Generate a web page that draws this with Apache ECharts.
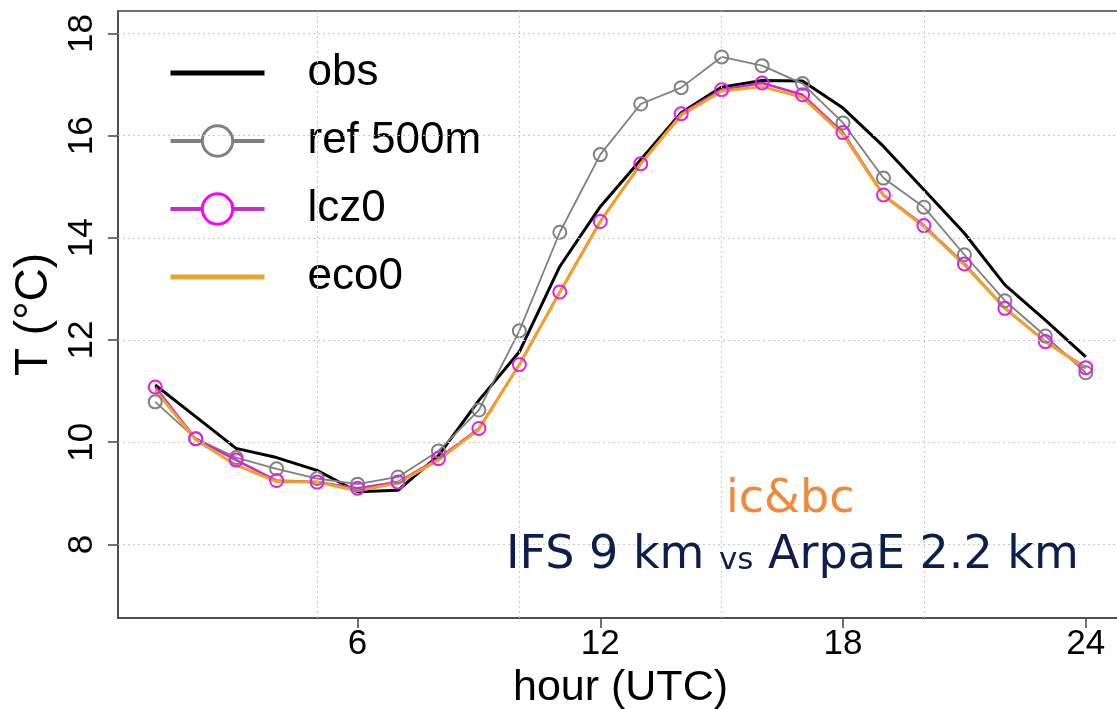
<!DOCTYPE html>
<html>
<head>
<meta charset="utf-8">
<script src="https://cdn.jsdelivr.net/npm/echarts@6/dist/echarts.min.js"></script>
<style>
html, body { margin: 0; padding: 0; background: #fff; }
#chart { width: 1117px; height: 709px; }
</style>
</head>
<body>
<div id="chart"></div>
<script>
// hourly 2 m temperature
const hours = [1, 2, 3, 4, 5, 6, 7, 8, 9, 10, 11, 12, 13, 14, 15, 16, 17, 18, 19, 20, 21, 22, 23, 24];
const obs = [11.12, 10.5, 9.88, 9.7, 9.45, 9.03, 9.06, 9.74, 10.82, 11.77, 13.44, 14.61, 15.53, 16.45, 16.95, 17.08, 17.07, 16.54, 15.79, 14.94, 14.09, 13.08, 12.39, 11.67];
const ref500 = [10.79, 10.07, 9.7, 9.48, 9.29, 9.18, 9.32, 9.83, 10.63, 12.18, 14.11, 15.63, 16.62, 16.94, 17.54, 17.37, 17.02, 16.25, 15.17, 14.6, 13.67, 12.77, 12.08, 11.36];
const lcz0 = [11.08, 10.07, 9.65, 9.25, 9.22, 9.1, 9.22, 9.68, 10.27, 11.52, 12.94, 14.32, 15.45, 16.43, 16.9, 17.03, 16.8, 16.06, 14.84, 14.24, 13.49, 12.62, 11.97, 11.46];
const eco0 = [11.02, 10.05, 9.55, 9.23, 9.22, 9.05, 9.2, 9.65, 10.25, 11.52, 12.94, 14.32, 15.45, 16.4, 16.87, 16.96, 16.75, 16.02, 14.83, 14.22, 13.47, 12.63, 11.97, 11.45];

const xTicks = [6, 12, 18, 24];
const yTicks = [8, 10, 12, 14, 16, 18];
const xGrid = [5, 10, 15, 20];

const FONT = '"Liberation Sans", Arial, sans-serif';
const NOTE_FONT = '"DejaVu Sans", sans-serif';
const AXIS = '#444';
const NONE = 'rgba(0,0,0,0)';

function pairs(vals) {
  return hours.map((h, i) => [h, vals[i]]);
}

const chart = echarts.init(document.getElementById('chart'));
chart.setOption({
  animation: false,
  backgroundColor: '#fff',
  grid: {
    left: 118, top: 11, width: 1005, height: 607,
    containLabel: false, outerBoundsMode: 'none',
    show: true, borderColor: AXIS, borderWidth: 1.5
  },
  xAxis: {
    type: 'value', min: 0.08, max: 24.92,
    axisLine: { show: true, lineStyle: { color: AXIS, width: 1.5 } },
    axisTick: { show: true, customValues: xTicks, length: 10, lineStyle: { color: AXIS, width: 1.5 } },
    axisLabel: { customValues: xTicks, fontSize: 35, color: '#000', margin: 9, fontFamily: FONT },
    splitLine: { show: false },
    name: 'hour (UTC)', nameLocation: 'middle', nameGap: 49,
    nameTextStyle: { fontSize: 43, color: '#000', fontFamily: FONT }
  },
  yAxis: {
    type: 'value', min: 6.56, max: 18.44,
    axisLine: { show: true, lineStyle: { color: AXIS, width: 1.5 } },
    axisTick: { show: true, customValues: yTicks, length: 10, lineStyle: { color: AXIS, width: 1.5 } },
    axisLabel: { customValues: yTicks, fontSize: 35, color: '#000', margin: 18, rotate: 90, fontFamily: FONT },
    splitLine: { show: false },
    name: 'T (°C)', nameLocation: 'middle', nameGap: 56, nameRotate: 90,
    nameTextStyle: { fontSize: 46, color: '#000', fontFamily: FONT }
  },
  legend: {
    left: 160, top: 46, orient: 'vertical',
    backgroundColor: '#fff',
    padding: [5, 5, 10, 8],
    itemWidth: 94, itemHeight: 38, itemGap: 24,
    textStyle: { fontSize: 44, color: '#000', fontFamily: FONT, padding: [0, 0, 0, 38] },
    data: [
      { name: 'obs', lineStyle: { color: '#000', width: 5 },
        itemStyle: { color: NONE, borderColor: NONE, borderWidth: 0 } },
      { name: 'ref 500m', lineStyle: { color: '#808080', width: 4 },
        itemStyle: { color: '#fff', borderColor: '#808080', borderWidth: 3 } },
      { name: 'lcz0', lineStyle: { color: '#c62fc6', width: 4 },
        itemStyle: { color: '#fff', borderColor: '#ff00ff', borderWidth: 3 } },
      { name: 'eco0', lineStyle: { color: '#e1a72e', width: 5 },
        itemStyle: { color: NONE, borderColor: NONE, borderWidth: 0 } }
    ]
  },
  graphic: [
    {
      type: 'text', left: 726, top: 477, z: 10,
      style: { text: 'ic&bc', fontSize: 46, fill: '#ef8a3c', fontFamily: NOTE_FONT }
    },
    {
      type: 'text', left: 506, top: 533, z: 10,
      style: {
        text: '{a|IFS 9 km }{b|vs}{a| ArpaE 2.2 km}',
        fill: '#0b1f4f',
        rich: {
          a: { fontSize: 46, fontFamily: NOTE_FONT, fill: '#0b1f4f', lineHeight: 50, verticalAlign: 'bottom' },
          b: { fontSize: 31, fontFamily: NOTE_FONT, fill: '#0b1f4f', lineHeight: 50, verticalAlign: 'bottom', padding: [0, 0, 3, 0] }
        }
      }
    }
  ],
  series: [
    {
      type: 'line', data: [], z: 1, silent: true,
      markLine: {
        silent: true, symbol: 'none', animation: false,
        label: { show: false },
        lineStyle: { color: '#c8c8c8', type: [2, 3], width: 1 },
        data: xGrid.map(v => ({ xAxis: v })).concat(yTicks.map(v => ({ yAxis: v })))
      }
    },
    {
      name: 'obs', type: 'line', data: pairs(obs), showSymbol: false, symbol: 'none',
      lineStyle: { color: '#000', width: 3 }, itemStyle: { color: '#000' }
    },
    {
      name: 'ref 500m', type: 'line', data: pairs(ref500), symbol: 'circle', symbolSize: 13,
      lineStyle: { color: '#808080', width: 1.8 },
      itemStyle: { color: NONE, borderColor: '#808080', borderWidth: 2 }
    },
    {
      name: 'lcz0', type: 'line', data: pairs(lcz0), symbol: 'circle', symbolSize: 13,
      lineStyle: { color: '#c62fc6', width: 2.5 },
      itemStyle: { color: NONE, borderColor: '#e020e0', borderWidth: 2 }
    },
    {
      name: 'eco0', type: 'line', data: pairs(eco0), showSymbol: false, symbol: 'none',
      lineStyle: { color: '#f2a125', width: 3 }, itemStyle: { color: '#f2a125' }
    }
  ]
});
</script>
</body>
</html>
